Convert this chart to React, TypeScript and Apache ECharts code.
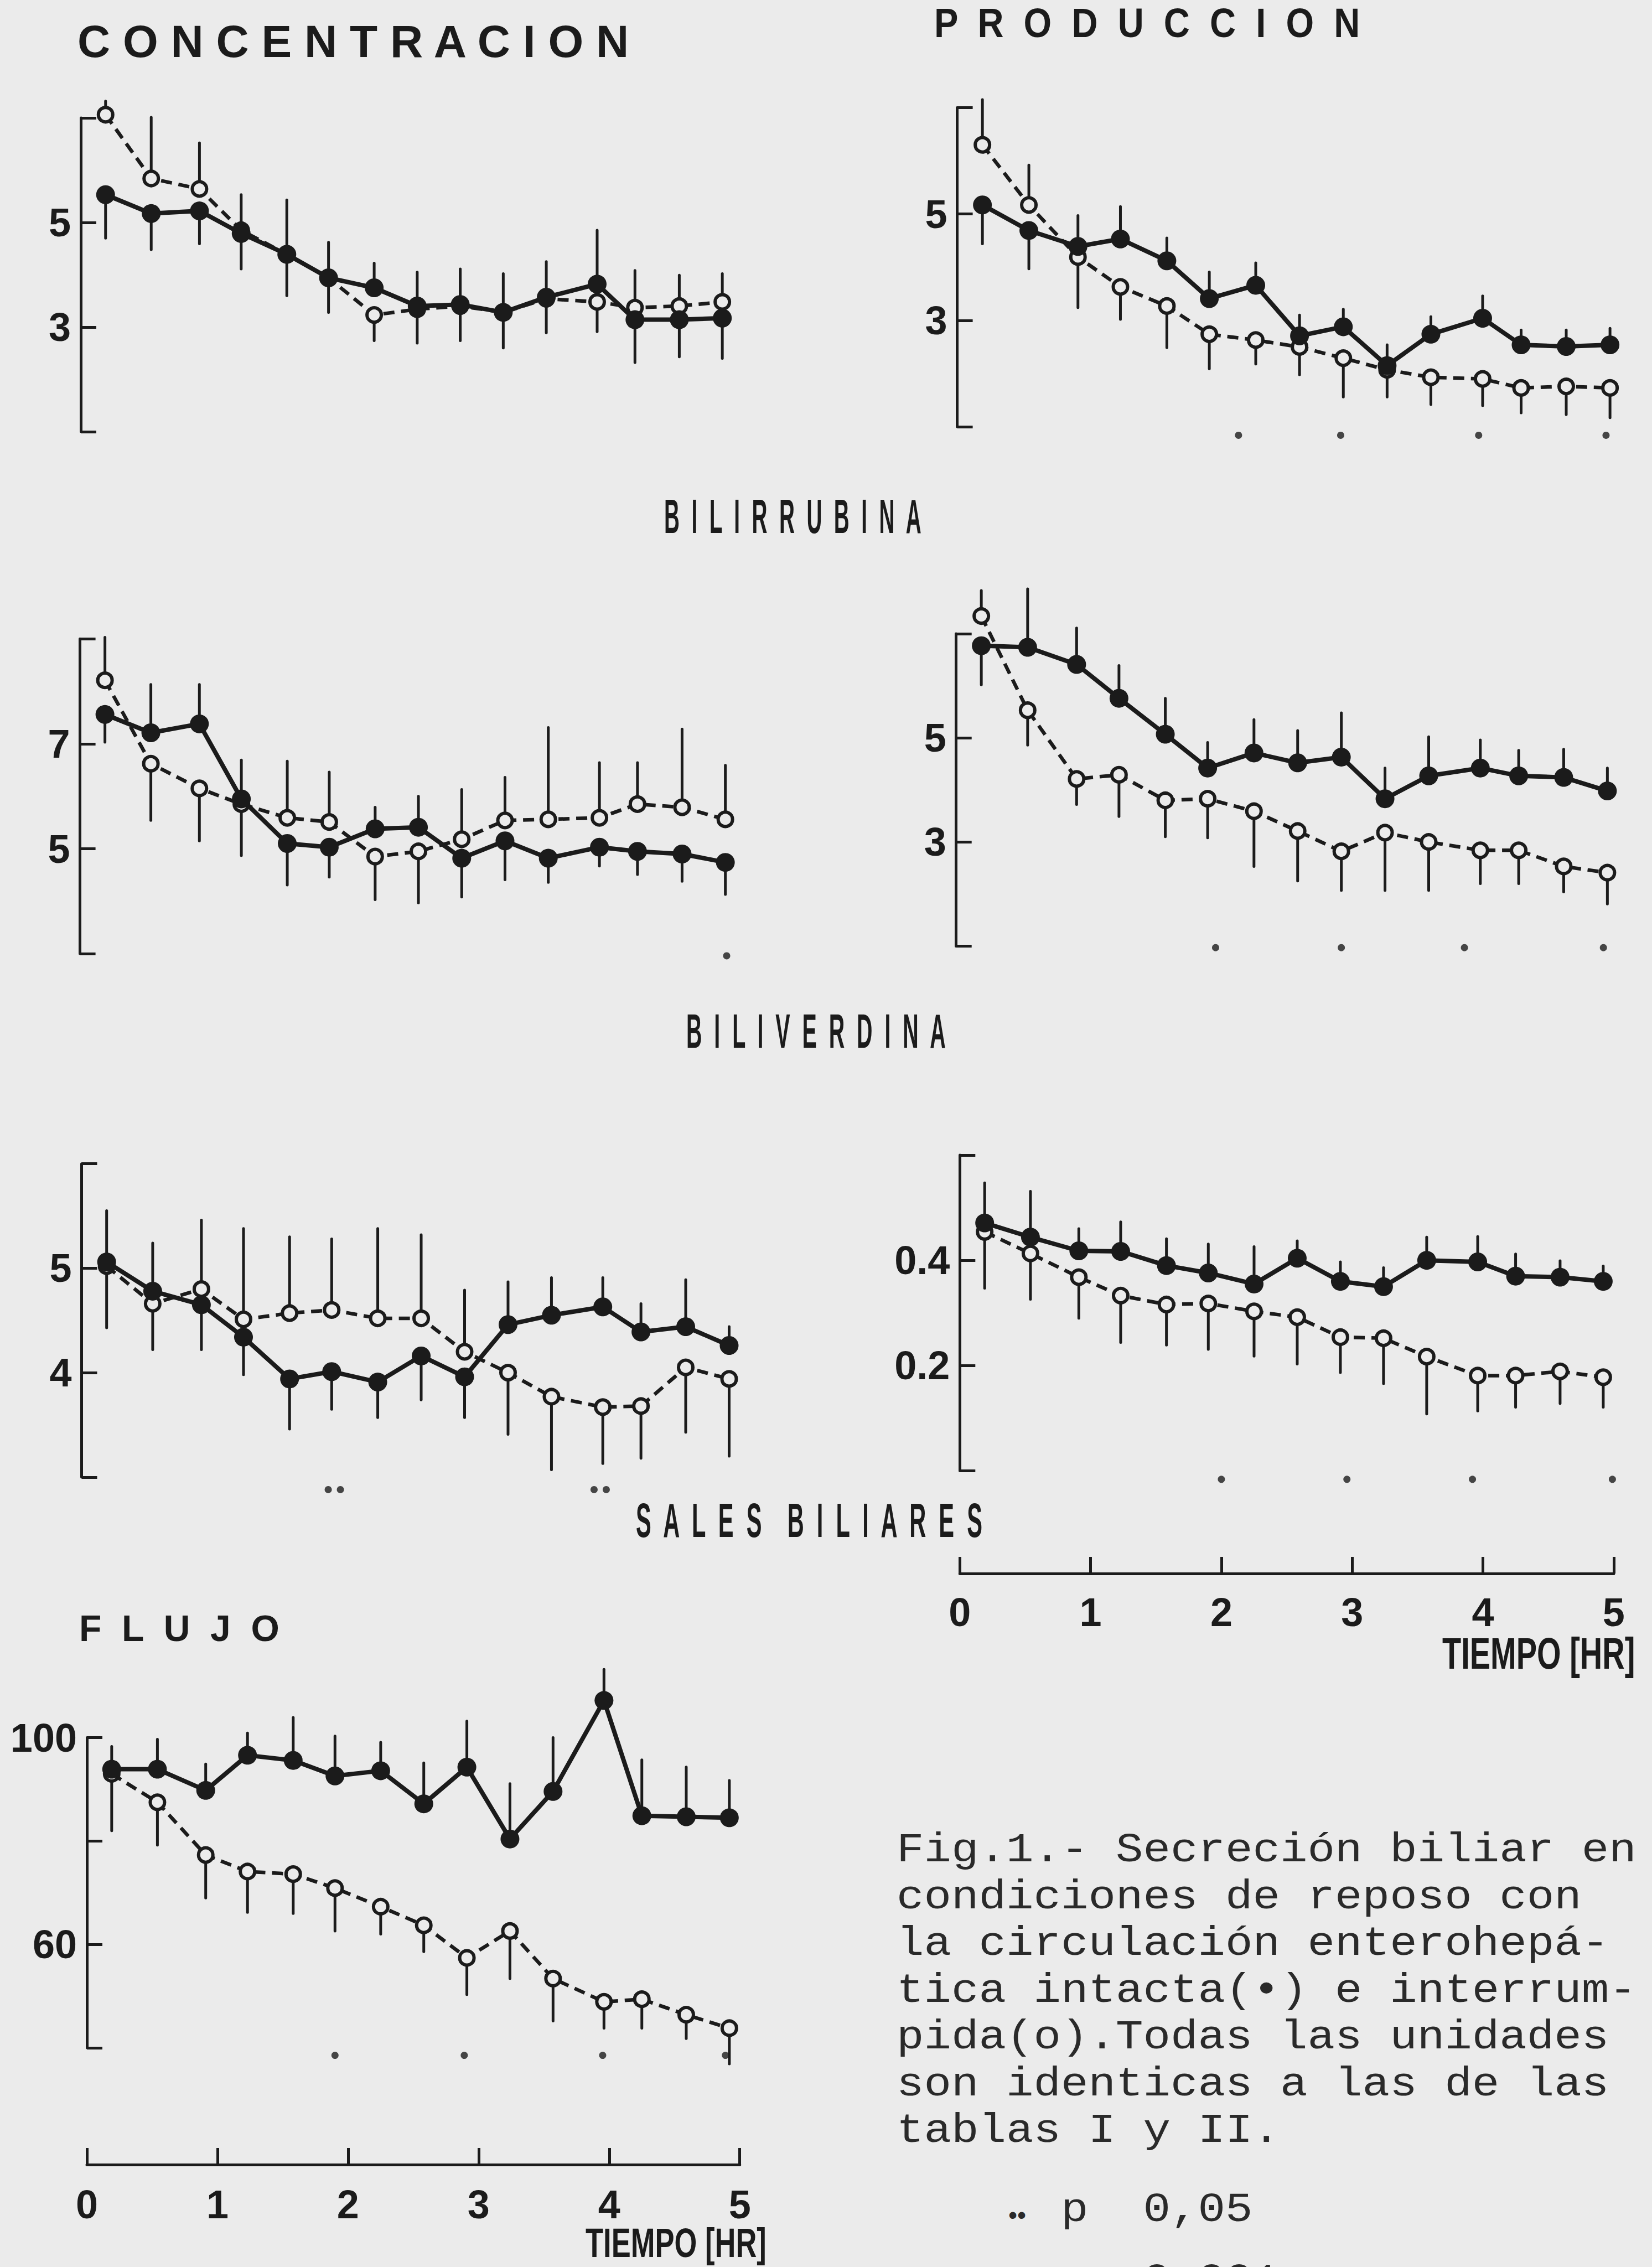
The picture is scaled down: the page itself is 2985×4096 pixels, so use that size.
import React, { useEffect, useRef } from 'react';
import * as echarts from 'echarts';

// ---------- data ----------
const TIMES = [0.19, 0.54, 0.91, 1.23, 1.58, 1.9, 2.25, 2.58, 2.91, 3.24, 3.57, 3.96, 4.25, 4.59, 4.92];

// Bilirrubina – concentración
const A_SOLID = [5.53, 5.17, 5.22, 4.79, 4.39, 3.94, 3.75, 3.4, 3.43, 3.28, 3.57, 3.82, 3.14, 3.14, 3.17];
const A_OPEN = [7.06, 5.84, 5.64, 4.85, 4.39, 3.94, 3.23, 3.34, 3.4, 3.28, 3.54, 3.48, 3.37, 3.4, 3.48];
const A_HI = [7.32, 7.01, 6.52, 5.53, 5.43, 4.62, 4.22, 4.05, 4.11, 4.02, 4.25, 4.85, 4.08, 3.99, 4.02];
const A_LO = [4.7, 4.48, 4.59, 4.11, 3.6, 3.28, 2.74, 2.69, 2.74, 2.6, 2.89, 2.91, 2.32, 2.43, 2.4];

// Bilirrubina – producción
const B_SOLID = [5.17, 4.69, 4.39, 4.53, 4.12, 3.41, 3.66, 2.71, 2.88, 2.15, 2.74, 3.04, 2.54, 2.51, 2.54];
const B_OPEN = [6.3, 5.17, 4.19, 3.63, 3.27, 2.74, 2.63, 2.5, 2.29, 2.07, 1.93, 1.9, 1.73, 1.76, 1.73];
const B_HI = [7.15, 5.92, 4.97, 5.14, 4.55, 3.91, 4.08, 3.1, 3.21, 2.54, 3.07, 3.46, 2.82, 2.82, 2.85];
const B_LO = [4.44, 3.97, 3.24, 3.02, 2.49, 2.09, 2.18, 1.98, 1.56, 1.56, 1.42, 1.4, 1.26, 1.23, 1.17];
const B_SIG = [2.12, 2.89, 3.93, 4.89];

// Biliverdina – concentración
const C_SOLID = [7.56, 7.21, 7.38, 5.95, 5.1, 5.03, 5.38, 5.41, 4.82, 5.15, 4.82, 5.03, 4.95, 4.9, 4.74];
const C_OPEN = [8.21, 6.62, 6.15, 5.85, 5.59, 5.51, 4.85, 4.95, 5.18, 5.54, 5.56, 5.59, 5.85, 5.79, 5.56];
const C_HI = [9.03, 8.13, 8.13, 6.69, 6.67, 6.46, 5.79, 6.0, 6.13, 6.36, 7.31, 6.64, 6.64, 7.28, 6.59];
const C_LO = [7.03, 5.54, 5.15, 4.87, 4.31, 4.46, 4.03, 3.97, 4.08, 4.41, 4.36, 4.67, 4.51, 4.38, 4.13];
const C_SIG = [4.93];

// Biliverdina – producción
const D_SOLID = [6.77, 6.74, 6.41, 5.76, 5.07, 4.42, 4.71, 4.52, 4.63, 3.83, 4.27, 4.42, 4.27, 4.24, 3.98];
const D_OPEN = [7.34, 5.53, 4.21, 4.29, 3.8, 3.83, 3.59, 3.21, 2.82, 3.18, 3.0, 2.84, 2.84, 2.53, 2.41];
const D_HI = [7.83, 7.86, 7.11, 6.39, 5.76, 4.91, 5.35, 5.14, 5.48, 4.42, 5.02, 4.96, 4.76, 4.78, 4.42];
const D_LO = [6.02, 4.86, 3.72, 3.49, 3.1, 3.08, 2.53, 2.25, 2.07, 2.07, 2.07, 2.2, 2.2, 2.04, 1.81];
const D_SIG = [1.96, 2.91, 3.84, 4.89];

// Sales biliares – concentración
const E_SOLID = [5.06, 4.78, 4.65, 4.34, 3.94, 4.01, 3.91, 4.16, 3.96, 4.46, 4.55, 4.63, 4.39, 4.44, 4.26];
const E_OPEN = [5.02, 4.66, 4.8, 4.51, 4.57, 4.6, 4.52, 4.52, 4.2, 4.0, 3.77, 3.67, 3.68, 4.05, 3.94];
const E_HI = [5.55, 5.24, 5.46, 5.38, 5.3, 5.28, 5.38, 5.32, 4.79, 4.87, 4.91, 4.91, 4.66, 4.89, 4.44];
const E_LO = [4.43, 4.22, 4.22, 3.98, 3.46, 3.65, 3.57, 3.74, 3.57, 3.41, 3.07, 3.13, 3.18, 3.43, 3.2];
const E_SIG2 = [1.92, 3.94];

// Sales biliares – producción
const F_SOLID = [0.471, 0.444, 0.418, 0.417, 0.39, 0.376, 0.355, 0.404, 0.36, 0.35, 0.4, 0.397, 0.37, 0.368, 0.36];
const F_OPEN = [0.454, 0.413, 0.368, 0.333, 0.316, 0.318, 0.303, 0.292, 0.254, 0.252, 0.217, 0.181, 0.181, 0.189, 0.178];
const F_HI = [0.547, 0.531, 0.46, 0.473, 0.441, 0.431, 0.426, 0.437, 0.397, 0.386, 0.444, 0.445, 0.412, 0.399, 0.389];
const F_LO = [0.347, 0.326, 0.29, 0.244, 0.239, 0.231, 0.218, 0.203, 0.187, 0.166, 0.108, 0.114, 0.121, 0.128, 0.121];
const F_SIG = [2.0, 2.96, 3.92, 4.99];

// Flujo
const G_SOLID = [93.9, 93.9, 89.8, 96.6, 95.6, 92.6, 93.6, 87.2, 94.3, 80.4, 89.6, 107.2, 84.9, 84.7, 84.5];
const G_OPEN = [93.0, 87.5, 77.3, 74.1, 73.6, 70.9, 67.3, 63.7, 57.4, 62.6, 53.4, 48.9, 49.4, 46.4, 43.8];
const G_HI = [98.3, 99.7, 94.9, 100.9, 103.9, 100.3, 99.1, 95.1, 103.2, 91.1, 100.0, 113.2, 95.7, 94.3, 91.7];
const G_LO = [82.0, 79.2, 69.0, 66.2, 66.0, 62.6, 62.0, 58.6, 50.3, 53.4, 45.2, 43.8, 43.8, 41.8, 36.9];
const G_SIG = [1.9, 2.89, 3.95, 4.89];

const X_TICKS = [0, 1, 2, 3, 4, 5];

const CAPTION = [
  'Fig.1.- Secreción biliar en',
  'condiciones de reposo con',
  'la circulación enterohepá-',
  'tica intacta(•) e interrum-',
  'pida(o).Todas las unidades',
  'son identicas a las de las',
  'tablas I y II.',
];

// ---------- styling / layout ----------
const INK = '#1b1b1b';
const PAPER = '#ebebeb';
const TYPE_INK = '#2a2a2a';
const SANS = '"Liberation Sans", Arial, sans-serif';
const MONO = '"Liberation Mono", "DejaVu Sans Mono", monospace';
const NUM_SIZE = 72;
const CAP_FS = 74;
const CAP_SX = 1.115;
const CAP_LH = 84.5;

type Panel = {
  grid: { left: number; top: number; width: number; height: number };
  yMin: number; yMax: number; yInt: number; yLabels: number[];
  open: number[]; solid: number[]; hi: number[]; lo: number[];
  sig: number[]; sigY: number; sig2: number[]; sig2Y: number;
  xAxis: null | { offset: number; margin: number };
};

const PANELS: Panel[] = [
  { grid: { left: 146, top: 212.9, width: 1178, height: 566.9 }, yMin: 1, yMax: 7, yInt: 2, yLabels: [3, 5],
    open: A_OPEN, solid: A_SOLID, hi: A_HI, lo: A_LO, sig: [], sigY: 0, sig2: [], sig2Y: 0, xAxis: null },
  { grid: { left: 1729.6, top: 194.4, width: 1198.7, height: 576.7 }, yMin: 1, yMax: 7, yInt: 2, yLabels: [3, 5],
    open: B_OPEN, solid: B_SOLID, hi: B_HI, lo: B_LO, sig: B_SIG, sigY: 0.84, sig2: [], sig2Y: 0, xAxis: null },
  { grid: { left: 144.6, top: 1154.3, width: 1185, height: 568.8 }, yMin: 3, yMax: 9, yInt: 2, yLabels: [5, 7],
    open: C_OPEN, solid: C_SOLID, hi: C_HI, lo: C_LO, sig: C_SIG, sigY: 2.96, sig2: [], sig2Y: 0, xAxis: null },
  { grid: { left: 1727.7, top: 1145.0, width: 1195.8, height: 564.4 }, yMin: 1, yMax: 7, yInt: 2, yLabels: [3, 5],
    open: D_OPEN, solid: D_SOLID, hi: D_HI, lo: D_LO, sig: D_SIG, sigY: 0.97, sig2: [], sig2Y: 0, xAxis: null },
  { grid: { left: 147.5, top: 2102.7, width: 1189, height: 566.1 }, yMin: 3, yMax: 6, yInt: 1, yLabels: [4, 5],
    open: E_OPEN, solid: E_SOLID, hi: E_HI, lo: E_LO, sig: [], sigY: 0, sig2: E_SIG2, sig2Y: 2.88, xAxis: null },
  { grid: { left: 1734.3, top: 2086.9, width: 1181.5, height: 570.7 }, yMin: 0, yMax: 0.6, yInt: 0.2, yLabels: [0.2, 0.4],
    open: F_OPEN, solid: F_SOLID, hi: F_HI, lo: F_LO, sig: F_SIG, sigY: -0.016, sig2: [], sig2Y: 0, xAxis: { offset: 185.4, margin: 34 } },
  { grid: { left: 157, top: 3139.6, width: 1179.7, height: 560.4 }, yMin: 40, yMax: 100, yInt: 20, yLabels: [60, 100],
    open: G_OPEN, solid: G_SOLID, hi: G_HI, lo: G_LO, sig: G_SIG, sigY: 38.55, sig2: [], sig2Y: 0, xAxis: { offset: 211, margin: 36 } },
];

function pts(vals: number[]) {
  return TIMES.map((t, i) => [t, vals[i]]);
}

function txt(text: string, x: number, y: number, fontSize: number, opts: any = {}) {
  const style: any = {
    text,
    fontSize,
    fontFamily: opts.fontFamily ?? SANS,
    fontWeight: opts.fontWeight ?? 'bold',
    fill: opts.fill ?? INK,
    align: 'left',
    verticalAlign: 'middle',
    textAlign: 'left',
    textVerticalAlign: 'middle',
  };
  if (opts.lineHeight) style.lineHeight = opts.lineHeight;
  return {
    type: 'text',
    x,
    y,
    scaleX: opts.scaleX ?? 1,
    scaleY: 1,
    silent: true,
    style,
  };
}

function mono(text: string, x: number, y: number, extra: any = {}) {
  return txt(text, x, y, CAP_FS, { fontFamily: MONO, fontWeight: 'normal', fill: TYPE_INK, scaleX: CAP_SX, ...extra });
}

function buildOption() {
  const grids: any[] = [];
  const xAxes: any[] = [];
  const yAxes: any[] = [];
  const series: any[] = [];

  PANELS.forEach((p, i) => {
    grids.push({ ...p.grid, containLabel: false });
    if (p.xAxis) {
      xAxes.push({
        type: 'value', gridIndex: i, min: 0, max: 5, interval: 1, position: 'bottom', offset: p.xAxis.offset,
        axisLine: { show: true, onZero: false, lineStyle: { color: INK, width: 5 } },
        axisTick: { show: true, inside: true, length: 30, lineStyle: { color: INK, width: 5 } },
        axisLabel: {
          show: true, margin: p.xAxis.margin, fontSize: NUM_SIZE, fontWeight: 'bold', fontFamily: SANS, color: INK,
          formatter: (v: number) => {
            const hit = X_TICKS.find((k) => Math.abs(k - v) < 1e-6);
            return hit === undefined ? '' : String(hit);
          },
        },
        splitLine: { show: false },
      });
    } else {
      xAxes.push({ type: 'value', gridIndex: i, min: 0, max: 5, show: false });
    }
    yAxes.push({
      type: 'value', gridIndex: i, min: p.yMin, max: p.yMax, interval: p.yInt,
      axisLine: { show: true, onZero: false, lineStyle: { color: INK, width: 5 } },
      axisTick: { show: true, inside: true, length: 28, lineStyle: { color: INK, width: 5 } },
      axisLabel: {
        show: true, margin: 18, fontSize: NUM_SIZE, fontWeight: 'bold', fontFamily: SANS, color: INK,
        formatter: (v: number) => {
          const hit = p.yLabels.find((l) => Math.abs(l - v) < 1e-6);
          return hit === undefined ? '' : String(hit);
        },
      },
      splitLine: { show: false },
    });

    // error bars (upper point -> HI, lower point -> LO)
    series.push({
      type: 'custom', xAxisIndex: i, yAxisIndex: i, clip: false, silent: true, z: 1,
      encode: { x: 0, y: [1, 2, 3, 4] },
      data: TIMES.map((t, k) => [t, p.open[k], p.solid[k], p.hi[k], p.lo[k]]),
      renderItem: (_params: any, api: any) => {
        const t = api.value(0);
        const o = api.value(1);
        const s = api.value(2);
        const h = api.value(3);
        const l = api.value(4);
        const top = Math.max(o, s);
        const bot = Math.min(o, s);
        const a = api.coord([t, top]);
        const b = api.coord([t, h]);
        const c = api.coord([t, bot]);
        const d = api.coord([t, l]);
        const st = { stroke: INK, lineWidth: 5, lineCap: 'round' };
        return {
          type: 'group',
          children: [
            { type: 'line', shape: { x1: a[0], y1: a[1], x2: b[0], y2: b[1] }, style: st },
            { type: 'line', shape: { x1: c[0], y1: c[1], x2: d[0], y2: d[1] }, style: st },
          ],
        };
      },
    });
    // interrumpida (open circles, dashed)
    series.push({
      type: 'line', xAxisIndex: i, yAxisIndex: i, clip: false, silent: true, z: 2,
      data: pts(p.open),
      symbol: 'circle', symbolSize: 26, showSymbol: true,
      lineStyle: { color: INK, width: 6.5, type: [20, 12] },
      itemStyle: { color: PAPER, borderColor: INK, borderWidth: 6 },
    });
    // intacta (filled circles, solid)
    series.push({
      type: 'line', xAxisIndex: i, yAxisIndex: i, clip: false, silent: true, z: 3,
      data: pts(p.solid),
      symbol: 'circle', symbolSize: 34, showSymbol: true,
      lineStyle: { color: INK, width: 8, type: 'solid' },
      itemStyle: { color: INK, borderColor: INK, borderWidth: 0 },
    });
    if (p.sig.length) {
      series.push({
        type: 'scatter', xAxisIndex: i, yAxisIndex: i, clip: false, silent: true, z: 4,
        data: p.sig.map((t) => [t, p.sigY]), symbol: 'circle', symbolSize: 13,
        itemStyle: { color: INK },
      });
    }
    if (p.sig2.length) {
      [-11, 11].forEach((off) => {
        series.push({
          type: 'scatter', xAxisIndex: i, yAxisIndex: i, clip: false, silent: true, z: 4,
          data: p.sig2.map((t) => [t, p.sig2Y]), symbol: 'circle', symbolSize: 13, symbolOffset: [off, 0],
          itemStyle: { color: INK },
        });
      });
    }
  });

  const graphics: any[] = [
    txt('C O N C E N T R A C I O N', 140, 74, 82),
    txt('P  R  O  D  U  C  C  I  O  N', 1688, 42, 74, { scaleX: 0.88 }),
    txt('B  I  L  I  R  R  U  B  I  N  A', 1200, 932, 88, { scaleX: 0.44 }),
    txt('B  I  L  I  V  E  R  D  I  N  A', 1240, 1862, 88, { scaleX: 0.448 }),
    txt('S  A  L  E  S    B  I  L  I  A  R  E  S', 1149, 2747, 88, { scaleX: 0.473 }),
    txt('F  L  U  J  O', 143, 2942, 66),
    txt('TIEMPO [HR]', 2606, 2987, 80, { scaleX: 0.7 }),
    txt('TIEMPO [HR]', 1058, 4053, 74, { scaleX: 0.71 }),
  ];
  // caption: one line per text, first line centred at 3344, pitch CAP_LH
  CAPTION.forEach((line, k) => {
    graphics.push(mono(line, 1620, 3344 + k * CAP_LH));
  });
  graphics.push(txt('••', 1822, 4002, 46, { fontWeight: 'normal', fill: TYPE_INK }));
  graphics.push(mono('p  0,05', 1917, 3994));
  graphics.push(mono('0,001', 2065.5, 4122));

  return {
    animation: false,
    backgroundColor: PAPER,
    grid: grids,
    xAxis: xAxes,
    yAxis: yAxes,
    series,
    graphic: { elements: graphics },
  };
}

export default function App() {
  const ref = useRef<HTMLDivElement>(null);
  useEffect(() => {
    if (!ref.current) return;
    const chart = echarts.init(ref.current, null, { renderer: 'svg' });
    chart.setOption(buildOption() as any);
    return () => chart.dispose();
  }, []);
  return (
    <div
      ref={ref}
      style={{ position: 'absolute', left: 0, top: 0, width: 2985, height: 4096 }}
    />
  );
}
